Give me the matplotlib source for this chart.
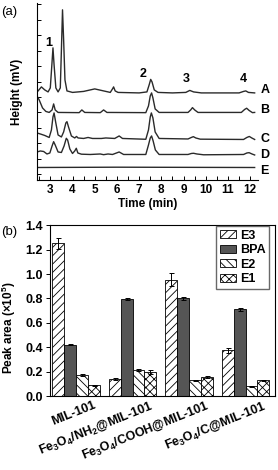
import matplotlib
matplotlib.use("Agg")
import matplotlib.pyplot as plt
import matplotlib.ticker as mticker
import matplotlib.transforms as mtransforms
import numpy as np

plt.rcParams["font.family"] = ["Liberation Sans", "DejaVu Sans"]
plt.rcParams["font.size"] = 8.5
plt.rcParams["font.weight"] = "bold"
plt.rcParams["axes.labelweight"] = "bold"
plt.rcParams["mathtext.fontset"] = "custom"
plt.rcParams["mathtext.rm"] = "Liberation Sans:bold"
plt.rcParams["mathtext.it"] = "Liberation Sans:bold"
plt.rcParams["mathtext.sf"] = "Liberation Sans"
plt.rcParams["hatch.linewidth"] = 0.6

# ---- panel (a): chromatograms (time in min, height in arbitrary mV units)
time_a = [2.45, 2.6, 2.75, 2.9, 3.0, 3.07, 3.12, 3.17, 3.25, 3.35, 3.45, 3.5, 3.55, 3.6,
          3.66, 3.75, 4.0, 4.5, 5.0, 5.4, 5.7, 5.8, 5.85, 5.92, 6.05, 7.0, 7.35, 7.45,
          7.52, 7.58, 7.68, 7.85, 8.5, 9.1, 9.28, 9.45, 9.8, 11.5, 11.7, 11.8, 11.92, 12.2]
height_a = [89, 93, 90, 88, 92, 115, 132, 115, 92, 88, 92, 130, 170, 140,
            100, 89, 87.5, 88.5, 91, 89, 87.5, 91, 93, 89, 87.5, 87, 88, 95,
            100.5, 98, 90, 87.5, 87, 87.5, 89.5, 88, 87, 87, 88.5, 89, 87.5, 87]

time_b = [2.4, 2.5, 2.65, 2.8, 2.95, 3.08, 3.15, 3.22, 3.35, 4.3, 4.42, 4.55, 5.25, 5.4,
          5.55, 7.3, 7.42, 7.5, 7.56, 7.62, 7.72, 7.9, 9.2, 9.32, 9.4, 9.5, 9.65, 11.6,
          11.75, 11.84, 11.95, 12.1, 12.2]
height_b = [84, 80, 72, 68.5, 67.5, 70, 76, 70, 67.5, 67.3, 70, 67.5, 67.3, 70,
            67.5, 67.3, 74, 84, 87, 82, 71, 67.5, 67.5, 70, 72.3, 70, 67.5, 67.5,
            70.5, 71.7, 69.5, 67.3, 67.5]

time_c = [2.4, 2.55, 2.75, 2.95, 3.05, 3.12, 3.17, 3.24, 3.35, 3.5, 3.6, 3.7, 3.75, 3.82,
          3.95, 4.1, 4.18, 4.25, 4.5, 4.7, 4.9, 5.3, 5.5, 5.9, 6.1, 6.25, 7.3, 7.42,
          7.5, 7.55, 7.62, 7.72, 7.9, 9.2, 9.35, 9.44, 9.55, 9.75, 11.7, 11.85, 11.96,
          12.07, 12.2]
height_c = [47, 46, 44.5, 42.5, 50, 63, 67, 58, 45, 43, 48, 57, 58.3, 53,
            44, 42, 43.5, 42, 41.5, 42.5, 41.5, 41.5, 42, 41.5, 44, 41.5, 40.7, 50,
            63, 67, 62, 48, 41.5, 41, 42.5, 43.3, 42, 40.8, 40.5, 42.5, 43.5,
            42, 40.5]

time_d = [2.4, 2.55, 2.7, 2.85, 2.98, 3.08, 3.15, 3.22, 3.35, 3.5, 3.62, 3.72, 3.78, 3.88,
          4.0, 4.1, 4.17, 4.24, 4.4, 4.8, 5.25, 5.4, 5.6, 5.8, 6.1, 6.3, 7.3, 7.42,
          7.5, 7.56, 7.63, 7.73, 7.9, 9.2, 9.35, 9.45, 9.6, 9.9, 11.7, 11.85, 11.95,
          12.08, 12.2]
height_d = [28, 29, 28.5, 26, 27, 34, 38.3, 35, 28, 27.5, 34, 41.7, 40, 31,
            26.5, 29, 31.7, 27, 25.8, 25.5, 26, 25.3, 26, 25.5, 28, 25.5, 25.5, 35,
            42, 44, 39, 30, 25.5, 25.5, 26.5, 26.7, 26, 25.2, 25.5, 27, 27.3,
            26, 25]

time_e = [2.4, 6.0, 12.2]
height_e = [12.5, 12.8, 12.5]

trace_names = ["A", "B", "C", "D", "E"]
trace_label_y = [90, 70, 40.7, 25, 9]

peak_names = ["1", "2", "3", "4"]
peak_label_t = [2.93, 7.18, 9.12, 11.67]
peak_label_y = [137, 106, 101, 101]

# ---- panel (b): peak areas (x10^5)
adsorbents = [r"MIL-101", r"Fe$_3$O$_4$/NH$_2$@MIL-101",
              r"Fe$_3$O$_4$/COOH@MIL-101", r"Fe$_3$O$_4$/C@MIL-101"]
analytes = ["E3", "BPA", "E2", "E1"]
area_e3 = [1.25, 0.14, 0.955, 0.375]
area_bpa = [0.42, 0.795, 0.80, 0.71]
area_e2 = [0.17, 0.215, 0.13, 0.08]
area_e1 = [0.09, 0.20, 0.155, 0.13]
err_e3 = [0.045, 0.005, 0.05, 0.02]
err_bpa = [0.005, 0.005, 0.012, 0.01]
err_e2 = [0.008, 0.005, 0.003, 0.003]
err_e1 = [0.004, 0.015, 0.008, 0.005]


def plot_chromatograms(ax):
    traces = [(time_a, height_a), (time_b, height_b), (time_c, height_c),
              (time_d, height_d), (time_e, height_e)]
    for (t, h), name, ly in zip(traces, trace_names, trace_label_y):
        ax.plot(t, h, color="#2a2a2a", linewidth=1.0)
        ax.text(12.45, ly, name, ha="left", va="center", fontsize=9,
                fontweight="bold", clip_on=False)
    for name, t, y in zip(peak_names, peak_label_t, peak_label_y):
        ax.text(t, y, name, ha="center", va="center", fontsize=9, fontweight="bold")

    ax.set_xlim(2.4, 12.35)
    ax.set_ylim(0, 177)
    ax.spines["top"].set_visible(False)
    ax.spines["right"].set_visible(False)
    ax.xaxis.set_major_locator(mticker.MultipleLocator(1))
    ax.xaxis.set_minor_locator(mticker.MultipleLocator(0.5))
    ax.yaxis.set_major_locator(mticker.FixedLocator(np.arange(6, 177, 15.4)))
    ax.tick_params(axis="x", which="both", direction="in", length=3, width=0.7, pad=3)
    ax.tick_params(axis="y", which="both", direction="in", length=3, width=0.7,
                   labelleft=False)
    ax.set_xlabel("Time (min)", labelpad=1)
    ax.set_ylabel("Height (mV)")
    ax.yaxis.set_label_coords(-0.063, 0.5)


def plot_areas(ax):
    values = [area_e3, area_bpa, area_e2, area_e1]
    errors = [err_e3, err_bpa, err_e2, err_e1]
    styles = [
        dict(facecolor="white", hatch="////"),
        dict(facecolor="#555555", hatch=""),
        dict(facecolor="white", hatch="\\\\\\\\"),
        dict(facecolor="white", hatch="xxxx"),
    ]
    x = np.arange(1, len(adsorbents) + 1)
    width = 0.21
    for i, (vals, errs, st, name) in enumerate(zip(values, errors, styles, analytes)):
        pos = x + (i - 1.5) * width
        ax.bar(pos, vals, width, edgecolor="black", linewidth=0.6, label=name, **st)
        ax.errorbar(pos, vals, yerr=errs, fmt="none", ecolor="black",
                    elinewidth=0.7, capsize=1.8, capthick=0.7)

    ax.set_xlim(0.54, 4.52)
    ax.set_ylim(0, 1.4)
    ax.yaxis.set_major_locator(mticker.MultipleLocator(0.2))
    ax.yaxis.set_major_formatter(mticker.FormatStrFormatter("%.1f"))
    ax.tick_params(axis="y", direction="out", length=3, width=0.7, pad=2, labelsize=9)
    ax.tick_params(axis="x", length=0, pad=2, labelsize=9)
    ax.set_xticks(x)
    ax.set_xticklabels(adsorbents, rotation=22, ha="right", rotation_mode="anchor")
    shift = mtransforms.ScaledTranslation(0.17, 0, plt.gcf().dpi_scale_trans)
    for lab in ax.get_xticklabels():
        lab.set_transform(lab.get_transform() + shift)
    ax.set_ylabel(r"Peak area $\mathsf{(\times10^5)}$")
    ax.yaxis.set_label_coords(-0.142, 0.40)
    for sp in ax.spines.values():
        sp.set_linewidth(0.8)

    ax.legend(loc="upper right", bbox_to_anchor=(0.985, 1.01), fontsize=9,
              frameon=True, fancybox=False, edgecolor="#444444",
              handlelength=1.3, handleheight=0.55, handletextpad=0.3,
              labelspacing=0.2, borderpad=0.3, borderaxespad=0.2)


def main():
    fig = plt.figure(figsize=(2.78, 4.70), dpi=100)
    ax_a = fig.add_axes([0.133, 0.617, 0.795, 0.377])
    plot_chromatograms(ax_a)
    ax_b = fig.add_axes([0.18, 0.157, 0.809, 0.364])
    plot_areas(ax_b)

    fig.text(0.005, 0.975, "(a)", fontsize=9.5, fontweight="normal", va="center")
    fig.text(0.005, 0.507, "(b)", fontsize=9.5, fontweight="normal", va="center")

    fig.savefig("out.png", dpi=100)


if __name__ == "__main__":
    main()
